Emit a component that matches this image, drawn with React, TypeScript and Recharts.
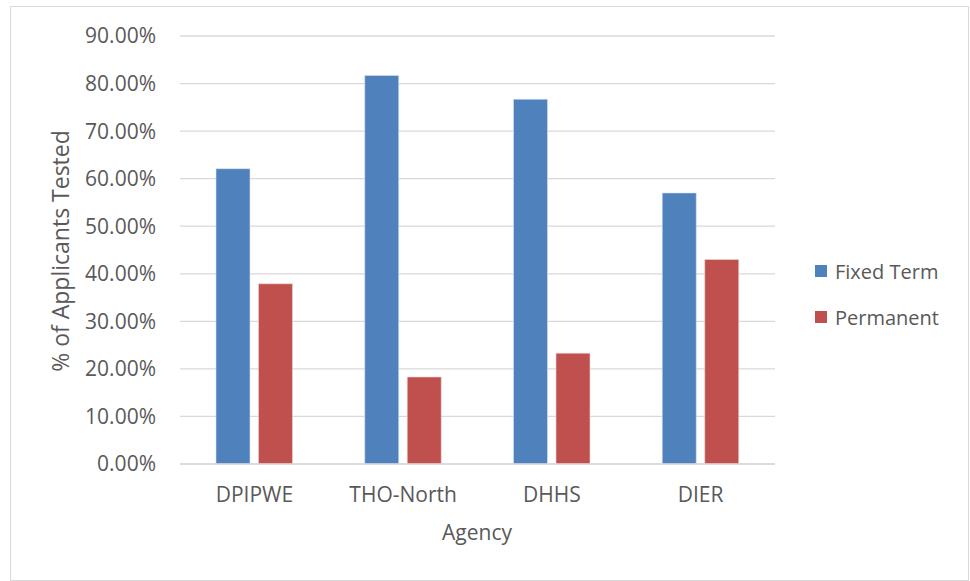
import React from "react";
import {
  BarChart,
  Bar,
  XAxis,
  YAxis,
  CartesianGrid,
  Label,
} from "recharts";

const agencies = ["DPIPWE", "THO-North", "DHHS", "DIER"];
const fixedTerm = [62.1, 81.7, 76.7, 57.0];
const permanent = [37.9, 18.3, 23.3, 43.0];
const yTicks = [0, 10, 20, 30, 40, 50, 60, 70, 80, 90];

const FONT = "'Open Sans', sans-serif";
const TEXT = "#595959";
const GRID = "#d9d9d9";
const BLUE = "#4f81bd";
const RED = "#c0504d";

const data = agencies.map((name, i) => ({
  name,
  fixed: fixedTerm[i],
  permanent: permanent[i],
}));

const series = [
  { key: "fixed", label: "Fixed Term", color: BLUE, edge: "#d6e2f0" },
  { key: "permanent", label: "Permanent", color: RED, edge: "#f0d6d5" },
];

// legend sits to the right of the plot, outside the chart's layout
function LegendBox() {
  return (
    <div
      style={{
        position: "absolute",
        left: 815,
        top: 248,
        fontFamily: FONT,
        fontSize: 20,
        color: TEXT,
      }}
    >
      {series.map((s) => (
        <div
          key={s.key}
          style={{ display: "flex", alignItems: "center", height: 46 }}
        >
          <span
            style={{
              width: 12,
              height: 12,
              background: s.color,
              marginRight: 8,
              display: "inline-block",
            }}
          />
          <span>{s.label}</span>
        </div>
      ))}
    </div>
  );
}

export default function App() {
  return (
    <div
      style={{
        position: "absolute",
        left: 0,
        top: 0,
        width: 970,
        height: 581,
        background: "#fff",
      }}
    >
      <div
        style={{
          position: "absolute",
          left: 10,
          top: 6,
          width: 957,
          height: 573,
          border: `1px solid ${GRID}`,
        }}
      />
      <div style={{ position: "absolute", left: 0, top: 0 }}>
        <BarChart
          width={970}
          height={581}
          data={data}
          margin={{ top: 36, right: 195, bottom: 0, left: 0 }}
          barGap={8.5}
          barCategoryGap="24.2%"
        >
          <CartesianGrid vertical={false} stroke={GRID} strokeWidth={1.3} />
          <XAxis
            dataKey="name"
            height={117}
            axisLine={{ stroke: GRID, strokeWidth: 1.3 }}
            tickLine={false}
            tickSize={0}
            tickMargin={23}
            tick={{ fill: TEXT, fontSize: 21, fontFamily: FONT }}
          >
            <Label
              content={() => (
                <text
                  x={477}
                  y={540}
                  textAnchor="middle"
                  fill={TEXT}
                  fontSize={21}
                  fontFamily={FONT}
                >
                  Agency
                </text>
              )}
            />
          </XAxis>
          <YAxis
            width={180}
            domain={[0, 90]}
            ticks={yTicks}
            interval={0}
            axisLine={false}
            tickLine={false}
            tickSize={0}
            tickMargin={24}
            tickFormatter={(v: number) => `${v.toFixed(2)}%`}
            tick={{ fill: TEXT, fontSize: 21, fontFamily: FONT }}
          >
            <Label
              content={() => (
                <text
                  x={60}
                  y={251}
                  transform="rotate(-90, 60, 251)"
                  textAnchor="middle"
                  dominantBaseline="central"
                  fill={TEXT}
                  fontSize={23}
                  fontFamily={FONT}
                >
                  % of Applicants Tested
                </text>
              )}
            />
          </YAxis>
          {series.map((s) => (
            <Bar
              key={s.key}
              dataKey={s.key}
              name={s.label}
              fill={s.color}
              stroke={s.edge}
              strokeWidth={0.6}
              isAnimationActive={false}
            />
          ))}
        </BarChart>
      </div>
      <LegendBox />
    </div>
  );
}
